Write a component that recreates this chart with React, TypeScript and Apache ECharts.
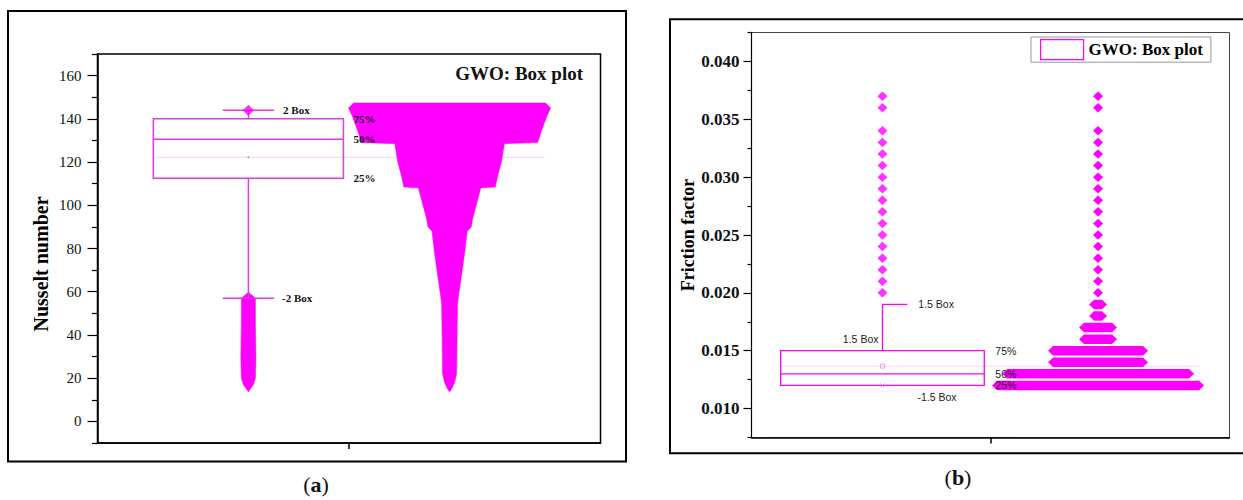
import React, { useEffect, useRef } from "react";
import * as echarts from "echarts";

// ---------------- Panel (a): Nusselt number ----------------
const yTicksA = [0, 20, 40, 60, 80, 100, 120, 140, 160];
const yMinorA = [-10, 10, 30, 50, 70, 90, 110, 130, 150, 170];
// lower whisker, Q1, median, Q3, upper whisker
const boxA = [57, 112.5, 130.5, 140, 144];
const meanA = 122.2;
const whiskerLabelsA = ["2 Box", "-2 Box"];
const percentLabels = ["25%", "50%", "75%"];
// samples below the lower whisker (value levels and their spread)
const tailLevelsA = [57, 45, 30, 20, 17, 15];
const tailSpreadA = [0.014, 0.014, 0.015, 0.014, 0.01, 0.004];
// distribution of all samples (value levels and their spread)
const swarmLevelsA = [145, 141, 136, 129, 128.5, 120, 113, 108.5, 108, 100, 94, 90, 88, 78, 68, 60, 55, 42, 22, 18, 15];
const swarmSpreadA = [0.201, 0.193, 0.185, 0.175, 0.109, 0.103, 0.095, 0.091, 0.062, 0.053, 0.046, 0.043, 0.035, 0.03, 0.024, 0.019, 0.016, 0.015, 0.014, 0.01, 0.004];

// ---------------- Panel (b): Friction factor ----------------
const yTicksB = [0.01, 0.015, 0.02, 0.025, 0.03, 0.035, 0.04];
const yMinorB = [0.0075, 0.0125, 0.0175, 0.0225, 0.0275, 0.0325, 0.0375, 0.0425];
const boxB = [0.012, 0.012, 0.013, 0.015, 0.019];
const meanB = 0.01366;
const whiskerLabelsB = ["1.5 Box", "1.5 Box", "-1.5 Box"];
const outliersB = [0.02, 0.021, 0.022, 0.023, 0.024, 0.025, 0.026, 0.027, 0.028, 0.029, 0.03, 0.031, 0.032, 0.033, 0.034, 0.036, 0.037];
const swarmLevelsB = [0.012, 0.013, 0.014, 0.015, 0.016, 0.017, 0.018, 0.019, 0.02, 0.021, 0.022, 0.023, 0.024, 0.025, 0.026, 0.027, 0.028, 0.029, 0.03, 0.031, 0.032, 0.033, 0.034, 0.036, 0.037];
const swarmCountsB = [102, 92, 46, 46, 15, 15, 5, 5, 1, 1, 1, 1, 1, 1, 1, 1, 1, 1, 1, 1, 1, 1, 1, 1, 1];
const legendName = "GWO: Box plot";

// ---------------- styles / layout ----------------
const MAGENTA = "#ff00ff";
const SERIF = "'Liberation Serif', 'Times New Roman', serif";
const SANS = "'Liberation Sans', Arial, sans-serif";
const BOX_X_A = 0.3, BOX_HALF_A = 0.189, CAP_HALF_A = 0.051, SWARM_X_A = 0.7;
const MEAN_LINE_A = [0.111, 0.889];
const BOX_X_B = 0.274, BOX_HALF_B = 0.213, CAP_B = 0.052, SWARM_X_B = 0.725;
const MEAN_LINE_B = [0.062, 0.938];
const DIAMOND_B = [10, 9.5];
const SAMPLE_STEP_B = 2;

function profilePolygon(api: any, xc: number, levels: number[], spread: number[], topPad: number, chamfer: number, botPad: number) {
  const right = levels.map((v, i) => api.coord([xc + spread[i], v]));
  const left = levels.map((v, i) => api.coord([xc - spread[i], v]));
  const cx = api.coord([xc, levels[0]])[0];
  const top = right[0][1] - topPad;
  const c = Math.min(chamfer, (right[0][0] - left[0][0]) / 2);
  const pts: number[][] = [];
  pts.push([left[0][0] + c, top]);
  pts.push([right[0][0] - c, top]);
  for (const p of right) pts.push(p);
  const last = right[right.length - 1];
  pts.push([cx, last[1] + botPad]);
  for (let i = left.length - 1; i >= 0; i--) pts.push(left[i]);
  return pts;
}

function textEl(x: number, y: number, text: string, font: any, align = "left") {
  return {
    type: "text",
    x,
    y,
    style: { text, align, verticalAlign: "middle", fill: font.fill || "#111", fontSize: font.size, fontFamily: font.family, fontWeight: font.weight || "normal" },
  };
}

function renderBoxA(params: any, api: any) {
  const xc = api.value(0);
  const lo = api.value(1), q1 = api.value(2), med = api.value(3), q3 = api.value(4), hi = api.value(5);
  const tl = api.coord([xc - BOX_HALF_A, q3]);
  const br = api.coord([xc + BOX_HALF_A, q1]);
  const pMed = api.coord([xc, med]);
  const pHi = api.coord([xc, hi]);
  const pLo = api.coord([xc, lo]);
  const pMean = api.coord([xc, meanA]);
  const capL = api.coord([xc - CAP_HALF_A, hi])[0];
  const capR = api.coord([xc + CAP_HALF_A, hi])[0];
  const stroke = { stroke: "#e03ce0", lineWidth: 1.5, fill: "none" };
  const f = { size: 11, family: SERIF, weight: "bold", fill: "#111" };
  const lx = br[0] + 10;
  return {
    type: "group",
    children: [
      { type: "rect", shape: { x: tl[0], y: tl[1], width: br[0] - tl[0], height: br[1] - tl[1] }, style: stroke },
      { type: "line", shape: { x1: tl[0], y1: pMed[1], x2: br[0], y2: pMed[1] }, style: stroke },
      { type: "line", shape: { x1: pHi[0], y1: pHi[1], x2: pHi[0], y2: tl[1] }, style: stroke },
      { type: "line", shape: { x1: pLo[0], y1: br[1], x2: pLo[0], y2: pLo[1] }, style: stroke },
      { type: "line", shape: { x1: capL, y1: pHi[1], x2: capR, y2: pHi[1] }, style: stroke },
      { type: "line", shape: { x1: capL, y1: pLo[1], x2: capR, y2: pLo[1] }, style: stroke },
      { type: "circle", shape: { cx: pMean[0], cy: pMean[1], r: 0.9 }, style: { fill: "#999" } },
      textEl(capR + 9, pHi[1], whiskerLabelsA[0], f),
      textEl(capR + 8, pLo[1], whiskerLabelsA[1], f),
      textEl(lx, br[1], percentLabels[0], f),
      textEl(lx, pMed[1], percentLabels[1], f),
      textEl(lx, tl[1], percentLabels[2], f),
    ],
  };
}

function renderBoxB(params: any, api: any) {
  const xc = api.value(0);
  const q1 = api.value(2), med = api.value(3), q3 = api.value(4), hi = api.value(5);
  const tl = api.coord([xc - BOX_HALF_B, q3]);
  const br = api.coord([xc + BOX_HALF_B, q1]);
  const pMed = api.coord([xc, med]);
  const pHi = api.coord([xc, hi]);
  const pMean = api.coord([xc, meanB]);
  const capR = api.coord([xc + CAP_B, hi])[0];
  const stroke = { stroke: MAGENTA, lineWidth: 1.3, fill: "none" };
  const f = { size: 10.5, family: SANS, weight: "normal", fill: "#222" };
  const lx = br[0] + 11;
  return {
    type: "group",
    children: [
      { type: "rect", shape: { x: tl[0], y: tl[1], width: br[0] - tl[0], height: br[1] - tl[1] }, style: stroke },
      { type: "line", shape: { x1: tl[0], y1: pMed[1], x2: br[0], y2: pMed[1] }, style: stroke },
      { type: "line", shape: { x1: pHi[0], y1: pHi[1], x2: pHi[0], y2: tl[1] }, style: stroke },
      { type: "line", shape: { x1: pHi[0], y1: pHi[1], x2: capR, y2: pHi[1] }, style: stroke },
      { type: "rect", shape: { x: pMean[0] - 2, y: pMean[1] - 2, width: 4, height: 4 }, style: { stroke: "#f080f0", lineWidth: 0.8, fill: "none" } },
      { type: "line", shape: { x1: pHi[0] - 2, y1: br[1] - 2, x2: pHi[0] + 2, y2: br[1] + 2 }, style: { stroke: "#f080f0", lineWidth: 0.8 } },
      { type: "line", shape: { x1: pHi[0] - 2, y1: br[1] + 2, x2: pHi[0] + 2, y2: br[1] - 2 }, style: { stroke: "#f080f0", lineWidth: 0.8 } },
      textEl(capR + 11, pHi[1], whiskerLabelsB[0], f),
      textEl(pHi[0] - 4, tl[1] - 12, whiskerLabelsB[1], f, "right"),
      textEl(pHi[0] + 35, br[1] + 12, whiskerLabelsB[2], f),
      textEl(lx, br[1], percentLabels[0], f),
      textEl(lx, pMed[1], percentLabels[1], f),
      textEl(lx, tl[1], percentLabels[2], f),
    ],
  };
}

function renderMeanLine(params: any, api: any) {
  const a = api.coord([api.value(0), api.value(2)]);
  const b = api.coord([api.value(1), api.value(2)]);
  return { type: "line", shape: { x1: a[0], y1: a[1], x2: b[0], y2: b[1] }, style: { stroke: "#f7d2f7", lineWidth: 1 } };
}

function renderSwarmA(params: any, api: any) {
  if (params.dataIndex !== 0) return null;
  return { type: "polygon", shape: { points: profilePolygon(api, SWARM_X_A, swarmLevelsA, swarmSpreadA, 5, 5, 3) }, style: { fill: MAGENTA, stroke: MAGENTA, lineWidth: 0.5 } };
}

function renderTailA(params: any, api: any) {
  if (params.dataIndex !== 0) return null;
  return { type: "polygon", shape: { points: profilePolygon(api, BOX_X_A, tailLevelsA, tailSpreadA, 6, 7, 3) }, style: { fill: MAGENTA, stroke: MAGENTA, lineWidth: 0.5 } };
}

function renderSwarmB(params: any, api: any) {
  const c = api.coord([api.value(0), api.value(1)]);
  const w = DIAMOND_B[0] + (api.value(2) - 1) * SAMPLE_STEP_B;
  const h = DIAMOND_B[1];
  const half = w / 2;
  const dx = DIAMOND_B[0] / 2;
  const points = [
    [c[0] - half, c[1]],
    [c[0] - half + dx, c[1] - h / 2],
    [c[0] + half - dx, c[1] - h / 2],
    [c[0] + half, c[1]],
    [c[0] + half - dx, c[1] + h / 2],
    [c[0] - half + dx, c[1] + h / 2],
  ];
  return { type: "polygon", shape: { points }, style: { fill: MAGENTA } };
}

function xAxisCfg(gridIndex: number) {
  return {
    type: "value",
    gridIndex,
    min: 0,
    max: 1,
    axisLine: { show: true, onZero: false, lineStyle: { color: "#000", width: 1.5 } },
    axisTick: { show: true, customValues: [0.5], length: 6, lineStyle: { color: "#000", width: 1.5 } },
    axisLabel: { show: false },
    splitLine: { show: false },
  };
}

function buildOption() {
  return {
    animation: false,
    backgroundColor: "#fff",
    grid: [
      { left: 97.5, top: 54, width: 503, height: 389, show: true, borderColor: "#000", borderWidth: 1.5, containLabel: false },
      { left: 751.5, top: 32.5, width: 478, height: 405, show: true, borderColor: "#444", borderWidth: 1, containLabel: false },
    ],
    legend: {
      data: [legendName],
      left: 1031,
      top: 37,
      orient: "horizontal",
      selectedMode: false,
      icon: "rect",
      itemWidth: 43,
      itemHeight: 20,
      itemGap: 5,
      padding: [2, 8, 2, 9],
      borderColor: "#999",
      borderWidth: 1,
      backgroundColor: "#fff",
      itemStyle: { color: "#fff", borderColor: MAGENTA, borderWidth: 1.2 },
      textStyle: { fontFamily: SERIF, fontWeight: "bold", fontSize: 17, color: "#000", padding: [0, 0, 0, 0] },
    },
    xAxis: [xAxisCfg(0), xAxisCfg(1)],
    yAxis: [
      {
        type: "value",
        gridIndex: 0,
        position: "left",
        min: -10,
        max: 170,
        name: "Nusselt number",
        nameLocation: "middle",
        nameGap: 47,
        nameTextStyle: { fontFamily: SERIF, fontWeight: "bold", fontSize: 20, color: "#000", padding: [0, 31, 0, 0] },
        axisLine: { show: true, onZero: false, lineStyle: { color: "#000", width: 1.5 } },
        axisTick: { show: true, customValues: yTicksA, length: 10, lineStyle: { color: "#000", width: 1.2 } },
        axisLabel: { customValues: yTicksA, margin: 16, fontFamily: SERIF, fontSize: 15, color: "#111" },
        splitLine: { show: false },
      },
      {
        type: "value",
        gridIndex: 0,
        position: "left",
        min: -10,
        max: 170,
        axisLine: { show: false, onZero: false },
        axisTick: { show: true, customValues: yMinorA, length: 5.5, lineStyle: { color: "#000", width: 1.2 } },
        axisLabel: { show: false },
        splitLine: { show: false },
      },
      {
        type: "value",
        gridIndex: 1,
        position: "left",
        min: 0.0075,
        max: 0.0425,
        name: "Friction factor",
        nameLocation: "middle",
        nameGap: 55,
        nameTextStyle: { fontFamily: SERIF, fontWeight: "bold", fontSize: 18, color: "#000" },
        axisLine: { show: true, onZero: false, lineStyle: { color: "#000", width: 1.2 } },
        axisTick: { show: true, customValues: yTicksB, length: 8, lineStyle: { color: "#000", width: 1.2 } },
        axisLabel: { customValues: yTicksB, margin: 12, fontFamily: SERIF, fontWeight: "bold", fontSize: 17, color: "#111", formatter: (v: number) => v.toFixed(3) },
        splitLine: { show: false },
      },
      {
        type: "value",
        gridIndex: 1,
        position: "left",
        min: 0.0075,
        max: 0.0425,
        axisLine: { show: false, onZero: false },
        axisTick: { show: true, customValues: yMinorB, length: 4, lineStyle: { color: "#000", width: 1.2 } },
        axisLabel: { show: false },
        splitLine: { show: false },
      },
    ],
    graphic: [
      { type: "rect", shape: { x: 8, y: 11, width: 618, height: 450.5 }, style: { fill: "none", stroke: "#000", lineWidth: 2 } },
      { type: "rect", shape: { x: 670, y: 19.3, width: 600, height: 434 }, style: { fill: "none", stroke: "#000", lineWidth: 2 } },
      { type: "text", x: 583, y: 73, style: { text: "GWO: Box plot", align: "right", verticalAlign: "middle", fontFamily: SERIF, fontWeight: "bold", fontSize: 19, fill: "#111" } },
      {
        type: "text",
        x: 316,
        y: 484,
        style: {
          text: "{n|(}{b|a}{n|)}",
          align: "center",
          verticalAlign: "middle",
          rich: { n: { fontFamily: SERIF, fontSize: 22, fill: "#111" }, b: { fontFamily: SERIF, fontSize: 22, fontWeight: "bold", fill: "#111" } },
        },
      },
      {
        type: "text",
        x: 958,
        y: 477,
        style: {
          text: "{n|(}{b|b}{n|)}",
          align: "center",
          verticalAlign: "middle",
          rich: { n: { fontFamily: SERIF, fontSize: 22, fill: "#111" }, b: { fontFamily: SERIF, fontSize: 22, fontWeight: "bold", fill: "#111" } },
        },
      },
    ],
    series: [
      // panel (a)
      { type: "custom", name: "meanA", xAxisIndex: 0, yAxisIndex: 0, renderItem: renderMeanLine, encode: { x: [0, 1], y: 2 }, data: [[MEAN_LINE_A[0], MEAN_LINE_A[1], meanA]], silent: true },
      { type: "custom", name: "swarmA", xAxisIndex: 0, yAxisIndex: 0, renderItem: renderSwarmA, encode: { x: 0, y: 1 }, data: swarmLevelsA.map((v, i) => [SWARM_X_A, v, swarmSpreadA[i]]), silent: true },
      { type: "custom", name: "tailA", xAxisIndex: 0, yAxisIndex: 0, renderItem: renderTailA, encode: { x: 0, y: 1 }, data: tailLevelsA.map((v, i) => [BOX_X_A, v, tailSpreadA[i]]), silent: true },
      { type: "custom", name: "boxA", xAxisIndex: 0, yAxisIndex: 0, renderItem: renderBoxA, encode: { x: 0, y: [1, 2, 3, 4, 5] }, data: [[BOX_X_A, ...boxA]], silent: true, z: 5 },
      { type: "scatter", name: "maxA", xAxisIndex: 0, yAxisIndex: 0, symbol: "diamond", symbolSize: [11, 11], itemStyle: { color: MAGENTA }, data: [[BOX_X_A, boxA[4]]], silent: true, z: 6 },
      // panel (b)
      { type: "custom", name: "meanB", xAxisIndex: 1, yAxisIndex: 2, renderItem: renderMeanLine, encode: { x: [0, 1], y: 2 }, data: [[MEAN_LINE_B[0], MEAN_LINE_B[1], meanB]], silent: true },
      { type: "custom", name: "swarmB", xAxisIndex: 1, yAxisIndex: 2, renderItem: renderSwarmB, encode: { x: 0, y: 1 }, data: swarmLevelsB.map((v, i) => [SWARM_X_B, v, swarmCountsB[i]]), silent: true },
      { type: "scatter", name: "outliersB", xAxisIndex: 1, yAxisIndex: 2, symbol: "diamond", symbolSize: DIAMOND_B, itemStyle: { color: MAGENTA }, data: outliersB.map((v) => [BOX_X_B, v]), silent: true },
      { type: "custom", name: legendName, xAxisIndex: 1, yAxisIndex: 2, renderItem: renderBoxB, encode: { x: 0, y: [1, 2, 3, 4, 5] }, data: [[BOX_X_B, ...boxB]], silent: true, z: 5, itemStyle: { color: MAGENTA } },
    ],
  };
}

export default function App() {
  const ref = useRef<HTMLDivElement>(null);
  useEffect(() => {
    document.body.style.margin = "0";
    const chart = echarts.init(ref.current as HTMLDivElement, undefined, { renderer: "svg" });
    chart.setOption(buildOption() as any);
    return () => chart.dispose();
  }, []);
  return <div ref={ref} style={{ width: 1243, height: 500 }} />;
}
